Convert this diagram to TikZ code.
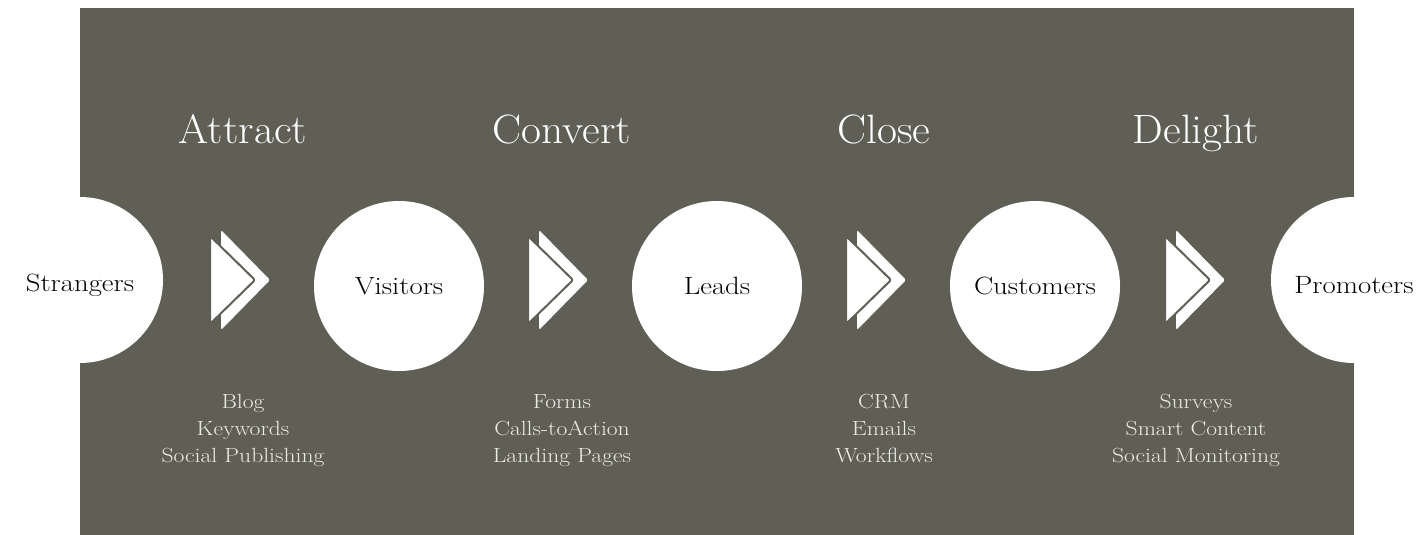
\documentclass[tikz,border=0pt]{standalone}
\usepackage{fontspec}
\newfontfamily\circfont{Latin Modern Roman}[FakeStretch=1.15]
\newfontfamily\titfont{Latin Modern Roman}[FakeStretch=1.06]
\newfontfamily\toolfont{Latin Modern Roman}[FakeStretch=1.15]
\definecolor{bg}{RGB}{96,95,86}
\definecolor{lighttext}{RGB}{236,236,230}
\tikzset{
  stagecircle/.style={circle, fill=white, inner sep=0pt, minimum size=#1},
  stagelabel/.style={text=black, inner sep=0pt, font=\circfont\fontsize{25}{28}\selectfont},
  titletext/.style={anchor=base, text=white, font=\titfont\fontsize{41}{44}\selectfont, inner sep=0pt},
  tooltext/.style={anchor=north, text=lighttext, align=center, font=\toolfont\fontsize{20.5}{27}\selectfont, inner sep=0pt},
  chevback/.style={fill=white, rounded corners=1.5pt},
  chevfront/.style={fill=white, draw=bg, line width=2pt, rounded corners=1.5pt, line join=round},
}
\begin{document}
\begin{tikzpicture}[x=1pt, y=-1pt]
\useasboundingbox (0,0) rectangle (1418,535);
\fill[bg] (80,8) rectangle (1354,535);

% stage circles
\node[stagecircle=166] (strangers) at (80,280) {};
\node[stagecircle=170] (visitors) at (399,286) {};
\node[stagecircle=170] (leads) at (717,286) {};
\node[stagecircle=170] (customers) at (1035,286) {};
\node[stagecircle=166] (promoters) at (1354,280) {};
\node[stagelabel] (lstrangers) at ([yshift=-5pt]strangers.center) {Strangers};
\node[stagelabel] (lvisitors) at (visitors.center) {Visitors};
\node[stagelabel] (lleads) at (leads.center) {Leads};
\node[stagelabel] (lcustomers) at (customers.center) {Customers};
\node[stagelabel] (lpromoters) at ([yshift=-5pt]promoters.center) {Promoters};

% chevrons
\foreach \cx/\nm in {240/ca, 558/cb, 876/cc, 1195/cd}{
  \coordinate (\nm) at (\cx,280);
  \fill[chevback] ([xshift=-19pt,yshift=50pt]\nm) -- ([xshift=30pt]\nm) -- ([xshift=-19pt,yshift=-50pt]\nm) -- cycle;
  \filldraw[chevfront] ([xshift=-30pt,yshift=44pt]\nm) -- ([xshift=15pt]\nm) -- ([xshift=-30pt,yshift=-44pt]\nm) -- cycle;
}

% titles
\node[titletext] (attract) at (243,143) {Attract};
\node[titletext] (convert) at (562,143) {Convert};
\node[titletext] (close) at (884,143) {Close};
\node[titletext] (delight) at (1196,143) {Delight};

% tools
\node[tooltext] (t1) at (243,394) {Blog\\Keywords\\Social Publishing};
\node[tooltext] (t2) at (562,394) {Forms\\Calls-toAction\\Landing Pages};
\node[tooltext] (t3) at (884,394) {CRM\\Emails\\Workflows};
\node[tooltext] (t4) at (1196,394) {Surveys\\Smart Content\\Social Monitoring};
\end{tikzpicture}
\end{document}
